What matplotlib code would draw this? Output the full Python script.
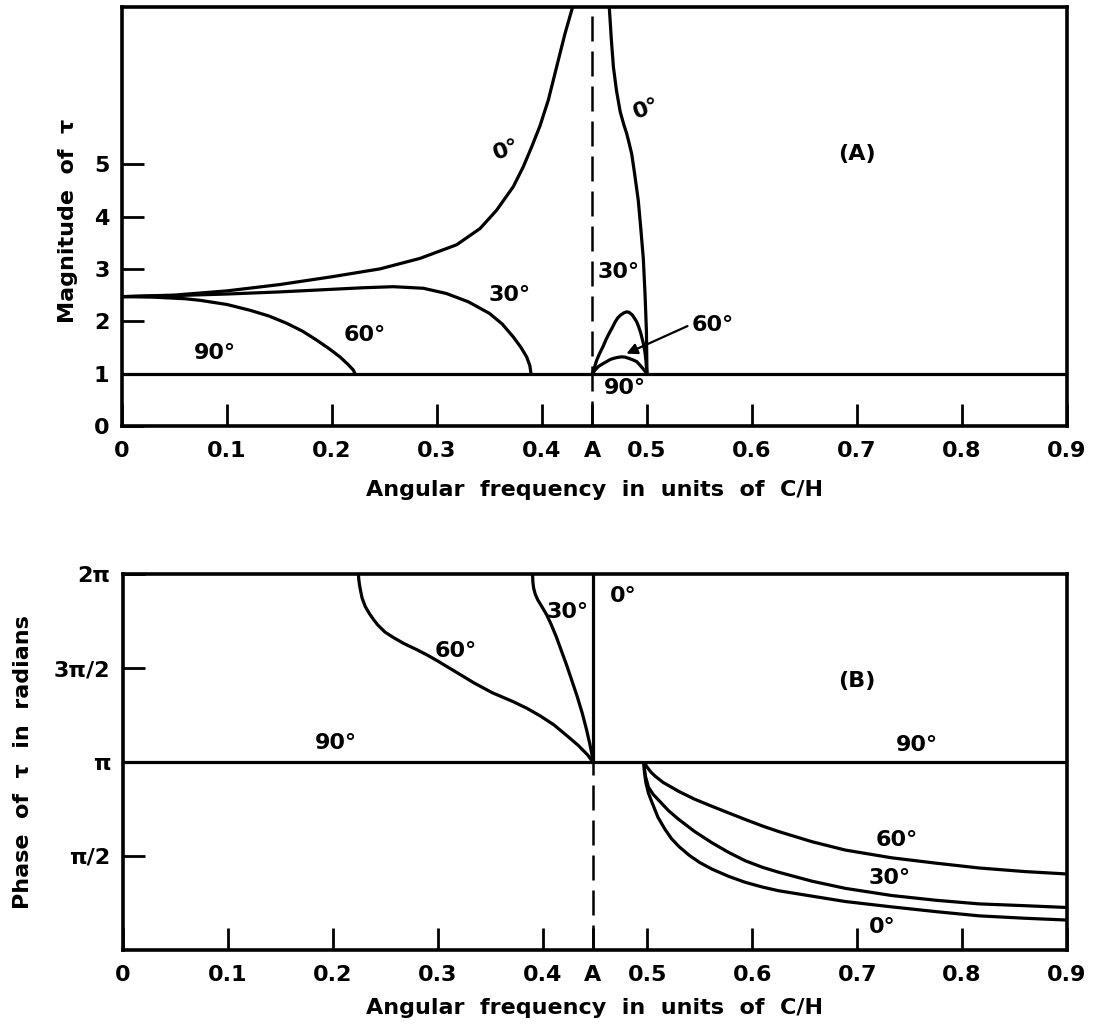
import numpy as np
import matplotlib.pyplot as plt

plt.rcParams['font.family'] = ['DejaVu Sans']
plt.rcParams['font.weight'] = 'bold'
plt.rcParams['axes.labelweight'] = 'bold'

A = 0.448  # resonance frequency marked "A"

# ---- (A) magnitude of tau ----
mag0_left_x = [0, 0.05, 0.1, 0.15, 0.2, 0.2457, 0.2838, 0.3187, 0.341, 0.3568, 0.3727,
               0.3822, 0.3902, 0.3981, 0.406, 0.414, 0.4219, 0.4292]
mag0_left_y = [2.47, 2.5, 2.58, 2.7, 2.85, 3.0, 3.2, 3.46, 3.77, 4.12, 4.57,
               4.95, 5.33, 5.73, 6.22, 6.86, 7.49, 8.0]
mag0_right_x = [0.4641, 0.466, 0.468, 0.471, 0.4745, 0.478, 0.4806, 0.483, 0.4854, 0.488,
                0.4917, 0.494, 0.4965, 0.4982, 0.4995, 0.5]
mag0_right_y = [8.0, 7.4, 6.86, 6.4, 6.0, 5.75, 5.59, 5.4, 5.2, 4.85,
                4.31, 3.8, 3.2, 2.5, 1.8, 1.0]

mag30_left_x = [0, 0.05, 0.1, 0.15, 0.2, 0.23, 0.2584, 0.287, 0.309, 0.33, 0.35, 0.362,
                0.3727, 0.38, 0.3854, 0.3885, 0.3895]
mag30_left_y = [2.47, 2.49, 2.52, 2.56, 2.61, 2.64, 2.66, 2.63, 2.53, 2.37, 2.15, 1.95,
                1.7, 1.5, 1.32, 1.15, 1.0]
mag30_right_x = [A, 0.45, 0.452, 0.455, 0.458, 0.461, 0.464, 0.467, 0.4695, 0.472, 0.475,
                 0.478, 0.4806, 0.483, 0.486, 0.488, 0.4902, 0.492, 0.494, 0.4965, 0.498,
                 0.499, 0.5]
mag30_right_y = [1.0, 1.12, 1.25, 1.39, 1.51, 1.65, 1.77, 1.88, 1.98, 2.06, 2.12,
                 2.16, 2.18, 2.17, 2.12, 2.06, 1.99, 1.9, 1.78, 1.58, 1.42,
                 1.25, 1.0]

mag60_left_x = [0, 0.03, 0.06, 0.0743, 0.1, 0.1219, 0.14, 0.157, 0.172, 0.1854, 0.197,
                0.2076, 0.215, 0.2203, 0.2219]
mag60_left_y = [2.47, 2.46, 2.43, 2.4, 2.32, 2.21, 2.1, 1.96, 1.81, 1.64, 1.48,
                1.32, 1.18, 1.07, 1.0]
mag60_right_x = [A, 0.451, 0.454, 0.458, 0.4616, 0.465, 0.468, 0.472, 0.4759, 0.479,
                 0.483, 0.487, 0.4902, 0.493, 0.496, 0.498, 0.5]
mag60_right_y = [1.0, 1.08, 1.14, 1.19, 1.23, 1.27, 1.29, 1.31, 1.32, 1.315,
                 1.29, 1.26, 1.23, 1.17, 1.1, 1.05, 1.0]

mag90_x = [0, 0.9]
mag90_y = [1, 1]

# ---- (B) phase of tau ----
ph0_x = [A, A]
ph0_y = [np.pi, 2 * np.pi]
ph0_right_x = [0.4966, 0.497, 0.4985, 0.501, 0.5045, 0.51, 0.517, 0.523, 0.53, 0.54, 0.55,
               0.5617, 0.5775, 0.5934, 0.61, 0.625, 0.6568, 0.6886, 0.733, 0.7755, 0.8164,
               0.86, 0.9]
ph0_right_y = [np.pi, 3.0, 2.8, 2.62, 2.46, 2.22, 2.01, 1.86, 1.73, 1.58, 1.46,
               1.35, 1.23, 1.13, 1.05, 0.99, 0.9, 0.81, 0.72, 0.64, 0.57,
               0.53, 0.5]

ph30_left_x = [0.3905, 0.3908, 0.3915, 0.393, 0.3955, 0.4, 0.404, 0.408, 0.413, 0.418,
               0.423, 0.428, 0.433, 0.438, 0.442, 0.445, 0.447, A]
ph30_left_y = [2 * np.pi, 6.15, 6.05, 5.95, 5.85, 5.72, 5.6, 5.45, 5.24, 5.0,
               4.76, 4.5, 4.24, 3.95, 3.68, 3.45, 3.28, np.pi]
ph30_right_x = [0.4966, 0.4972, 0.4982, 0.501, 0.5055, 0.5109, 0.52, 0.53, 0.545, 0.5617,
                0.5775, 0.5934, 0.61, 0.625, 0.6568, 0.6886, 0.733, 0.7755, 0.8164, 0.86,
                0.9]
ph30_right_y = [np.pi, 3.02, 2.9, 2.72, 2.6, 2.5, 2.33, 2.18, 1.98, 1.79,
                1.63, 1.49, 1.38, 1.3, 1.15, 1.03, 0.91, 0.83, 0.77, 0.74,
                0.71]

ph60_left_x = [0.2245, 0.2248, 0.2255, 0.2268, 0.228, 0.231, 0.235, 0.239, 0.243, 0.25,
               0.258, 0.268, 0.28, 0.29, 0.3, 0.318, 0.335, 0.352, 0.372, 0.385,
               0.398, 0.411, 0.424, 0.434, 0.443, A]
ph60_left_y = [2 * np.pi, 6.2, 6.1, 5.98, 5.88, 5.74, 5.62, 5.52, 5.43, 5.31,
               5.22, 5.12, 5.02, 4.93, 4.83, 4.64, 4.46, 4.3, 4.15, 4.04,
               3.91, 3.76, 3.57, 3.42, 3.26, np.pi]
ph60_right_x = [0.4966, 0.5, 0.5035, 0.5077, 0.515, 0.5299, 0.545, 0.5617, 0.5775, 0.5934,
                0.61, 0.625, 0.6568, 0.6886, 0.733, 0.7755, 0.8164, 0.86, 0.9]
ph60_right_y = [np.pi, 3.05, 2.97, 2.9, 2.8, 2.65, 2.52, 2.4, 2.29, 2.18,
                2.07, 1.98, 1.81, 1.67, 1.54, 1.45, 1.37, 1.31, 1.27]

ph90_x = [0, 0.9]
ph90_y = [np.pi, np.pi]

xticks = [0, 0.1, 0.2, 0.3, 0.4, A, 0.5, 0.6, 0.7, 0.8, 0.9]
xticklabels = ['0', '0.1', '0.2', '0.3', '0.4', 'A', '0.5', '0.6', '0.7', '0.8', '0.9']
mag_ticks = [0, 1, 2, 3, 4, 5]
ph_ticks = [np.pi / 2, np.pi, 1.5 * np.pi, 2 * np.pi]
ph_ticklabels = ['π/2', 'π', '3π/2', '2π']

xlabel = 'Angular  frequency  in  units  of  C/H'
lw = 2.3
fs = 16

fig = plt.figure(figsize=(10.96, 10.30), dpi=100)
ax1 = fig.add_axes([0.1113, 0.5864, 0.8622, 0.4068])
ax2 = fig.add_axes([0.1122, 0.0777, 0.8613, 0.3650])

for ax in (ax1, ax2):
    ax.set_xlim(0, 0.9)
    ax.set_xticks(xticks)
    ax.set_xticklabels(xticklabels)
    for s in ax.spines.values():
        s.set_linewidth(2.6)
    ax.tick_params(direction='in', length=16, width=2, labelsize=fs)
    ax.tick_params(axis='x', pad=11)
    ax.tick_params(axis='y', pad=9)
    ax.set_xlabel(xlabel, fontsize=fs, fontweight='bold')

# top panel
for x, y in [(mag0_left_x, mag0_left_y), (mag0_right_x, mag0_right_y),
             (mag30_left_x, mag30_left_y), (mag30_right_x, mag30_right_y),
             (mag60_left_x, mag60_left_y), (mag60_right_x, mag60_right_y),
             (mag90_x, mag90_y)]:
    ax1.plot(x, y, color='k', lw=lw, solid_capstyle='butt', solid_joinstyle='round')
ax1.plot([A, A], [0, 8], color='k', lw=1.8, dashes=(10, 4))
ax1.set_ylim(0, 8)
ax1.set_yticks(mag_ticks)
ax1.set_ylabel('Magnitude  of  τ', fontsize=fs, fontweight='bold')
ax1.yaxis.set_label_coords(-0.047, 0.49)
ax1.xaxis.set_label_coords(0.5, -0.128)

ax1.text(0.366, 5.27, '0°', fontsize=fs, ha='center', va='center', rotation=20)
ax1.text(0.4997, 6.06, '0°', fontsize=fs, ha='center', va='center', rotation=20)
ax1.text(0.3695, 2.50, '30°', fontsize=fs, ha='center', va='center')
ax1.text(0.4727, 2.94, '30°', fontsize=fs, ha='center', va='center')
ax1.text(0.2314, 1.74, '60°', fontsize=fs, ha='center', va='center')
ax1.text(0.0886, 1.39, '90°', fontsize=fs, ha='center', va='center')
ax1.text(0.479, 0.73, '90°', fontsize=fs, ha='center', va='center')
ax1.text(0.543, 1.93, '60°', fontsize=fs, ha='left', va='center')
ax1.annotate('', xy=(0.478, 1.36), xytext=(0.541, 1.93),
             arrowprops=dict(arrowstyle='-|>', color='k', lw=1.6, mutation_scale=16))
ax1.text(0.70, 5.2, '(A)', fontsize=fs, ha='center', va='center')

# bottom panel
for x, y in [(ph0_x, ph0_y), (ph0_right_x, ph0_right_y),
             (ph30_left_x, ph30_left_y), (ph30_right_x, ph30_right_y),
             (ph60_left_x, ph60_left_y), (ph60_right_x, ph60_right_y),
             (ph90_x, ph90_y)]:
    ax2.plot(x, y, color='k', lw=lw, solid_capstyle='butt', solid_joinstyle='round')
ax2.plot([A, A], [0, np.pi], color='k', lw=1.8, dashes=(10, 4))
ax2.set_ylim(0, 2 * np.pi)
ax2.set_yticks(ph_ticks)
ax2.set_yticklabels(ph_ticklabels)
ax2.set_ylabel('Phase  of  τ  in  radians', fontsize=fs, fontweight='bold')
ax2.yaxis.set_label_coords(-0.095, 0.5)
ax2.xaxis.set_label_coords(0.5, -0.128)

ax2.text(0.317, 5.0, '60°', fontsize=fs, ha='center', va='center')
ax2.text(0.4235, 5.65, '30°', fontsize=fs, ha='center', va='center')
ax2.text(0.4765, 5.92, '0°', fontsize=fs, ha='center', va='center')
ax2.text(0.2032, 3.46, '90°', fontsize=fs, ha='center', va='center')
ax2.text(0.7566, 3.42, '90°', fontsize=fs, ha='center', va='center')
ax2.text(0.7377, 1.84, '60°', fontsize=fs, ha='center', va='center')
ax2.text(0.7314, 1.20, '30°', fontsize=fs, ha='center', va='center')
ax2.text(0.7236, 0.39, '0°', fontsize=fs, ha='center', va='center')
ax2.text(0.70, 4.5, '(B)', fontsize=fs, ha='center', va='center')

fig.savefig('out.png', dpi=100)
